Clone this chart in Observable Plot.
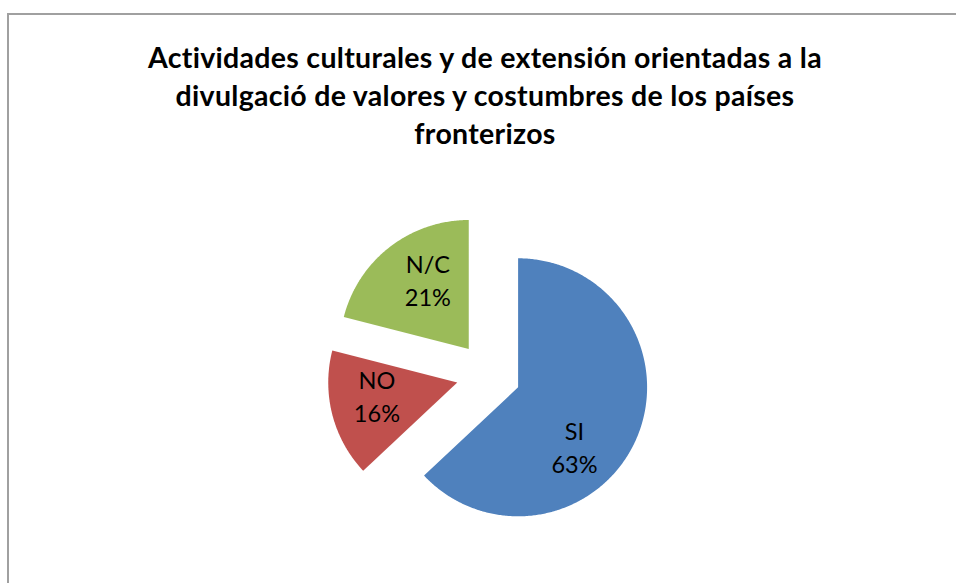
<!DOCTYPE html>
<html>
<head>
<meta charset="utf-8">
<script src="https://cdn.jsdelivr.net/npm/d3@7"></script>
<script src="https://cdn.jsdelivr.net/npm/@observablehq/plot@0.6"></script>
<style>
  html, body { margin: 0; padding: 0; background: #fff; overflow: hidden; width: 956px; height: 583px; }
  #title { height: 160px; box-sizing: border-box; padding-top: 38px; padding-left: 14px; text-align: center;
           font-family: Lato, sans-serif; font-weight: 700; font-size: 28.5px; letter-spacing: 0.3px;
           line-height: 38px; color: #000; white-space: nowrap; }
  #frame { position: absolute; left: 7px; top: 13px; width: 2000px; height: 2000px; box-sizing: border-box;
           border-left: 2px solid #a0a0a0; border-top: 2px solid #a0a0a0; pointer-events: none; z-index: 5; }
</style>
</head>
<body>
<div id="title">Actividades culturales y de extensión orientadas a la<br>divulgació de valores y costumbres de los países<br>fronterizos</div>
<div id="chart"></div>
<div id="frame"></div>
<script>
// ---- data ----
const categories = ["SI", "NO", "N/C"];
const values = [63, 16, 21];
const percentLabels = ["63%", "16%", "21%"];

// ---- layout ----
const W = 956, H = 423;
const cx = 488, cy = 214, R = 129;   // pie centre / radius in px
const explode = 0.25;                // explosion as fraction of radius
const labelFrac = 0.6, labelRad = 0.63;

const data = categories.map((c, i) => ({cat: c, value: values[i], pct: percentLabels[i]}));
const arcs = d3.pie().sort(null).value(d => d.value)(data);

const polys = [];
const labels = [];
for (const a of arcs) {
  const mid = (a.startAngle + a.endAngle) / 2;
  const ox = explode * Math.sin(mid), oy = explode * Math.cos(mid);
  polys.push({cat: a.data.cat, x: ox, y: oy});
  const n = Math.max(8, Math.ceil((a.endAngle - a.startAngle) / 0.01));
  for (let k = 0; k <= n; k++) {
    const t = a.startAngle + (a.endAngle - a.startAngle) * k / n;
    polys.push({cat: a.data.cat, x: ox + Math.sin(t), y: oy + Math.cos(t)});
  }
  const la = a.startAngle + labelFrac * (a.endAngle - a.startAngle);
  labels.push({cat: a.data.cat, text: a.data.cat + "\n" + a.data.pct,
               x: ox + labelRad * Math.sin(la), y: oy + labelRad * Math.cos(la)});
}

const chart = Plot.plot({
  width: W, height: H,
  margin: 0,
  style: {background: "transparent", fontFamily: "Lato, sans-serif"},
  x: {domain: [-cx / R, (W - cx) / R], axis: null},
  y: {domain: [-(H - cy) / R, cy / R], axis: null},
  color: {domain: categories, range: ["#4F81BD", "#C0504D", "#9BBB59"]},
  marks: [
    Plot.line(polys, {x: "x", y: "y", z: "cat", fill: "cat", stroke: "none", curve: "linear-closed"}),
    Plot.text(labels, {x: "x", y: "y", text: "text", fontSize: 23.5, lineHeight: 1.41, fill: "#000"})
  ]
});
document.getElementById("chart").appendChild(chart);
</script>
</body>
</html>
